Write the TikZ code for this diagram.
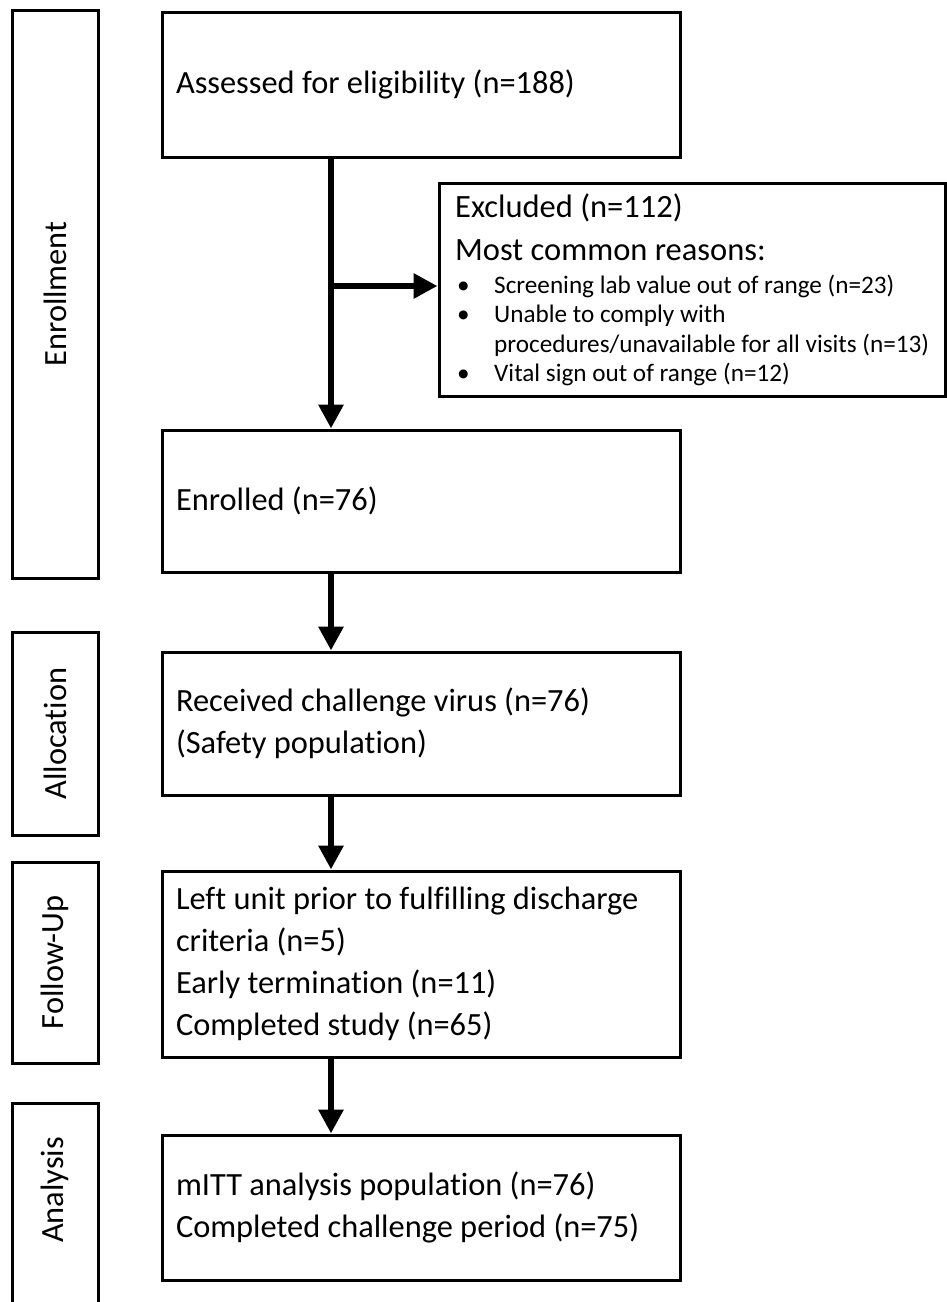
\documentclass[tikz,border=0pt]{standalone}
\usepackage{fontspec}
\setmainfont{Carlito}[Ligatures=NoCommon]
\usetikzlibrary{arrows.meta}
\begin{document}
\begin{tikzpicture}[x=1pt,y=-1pt,
  mainfont/.style={font=\fontsize{32.4}{42}\selectfont},
  headfont/.style={font=\fontsize{32.5}{42}\selectfont},
  smallfont/.style={font=\fontsize{25.2}{29.5}\selectfont},
  natural/.style={execute at begin node={\rightskip=0pt plus 1fil\spaceskip=0pt\xspaceskip=0pt\relax}},
  sidebox/.style={draw, line width=3pt, rotate=90, minimum height=86pt, inner sep=0pt, mainfont},
  flowbox/.style={draw, line width=3pt, minimum width=518pt, text width=490pt, inner xsep=14pt, inner ysep=0pt, align=left, mainfont, natural},
  flow/.style={line width=6pt, -{Triangle[length=24pt,width=24pt]}},
  linetext/.style={anchor=base west, inner sep=0pt}
]
\clip (0,0) rectangle (947,1302);
\fill[white] (0,0) rectangle (947,1302);

% side labels
\node[sidebox, minimum width=568pt] (enroll) at (55,294) {Enrollment};
\node[sidebox, minimum width=203pt] (alloc) at (55,733.5) {Allocation};
\node[sidebox, minimum width=201pt] (follow) at (55,962.5) {Follow-Up};
\node[sidebox, minimum width=287pt] (anbox) at (55,1246.5) {};
\node[rotate=90, mainfont, inner sep=0pt] (antext) at (55,1190) {Analysis};

% main boxes
\node[flowbox, minimum height=145pt] (assess) at (421,84.5) {Assessed for eligibility (n=188)};
\node[flowbox, minimum height=142pt] (enrol) at (421,501) {Enrolled (n=76)};
\node[flowbox, minimum height=143pt] (recv) at (421,723.5) {Received challenge virus (n=76)\\(Safety population)};
\node[flowbox, minimum height=186pt] (left) at (421,964) {Left unit prior to fulfilling discharge\\criteria (n=5)\\Early termination (n=11)\\Completed study (n=65)};
\node[flowbox, minimum height=145pt] (mitt) at (421,1207.5) {mITT analysis population (n=76)\\Completed challenge period (n=75)};

% excluded box
\node[draw, line width=3pt, minimum width=506pt, minimum height=213pt, inner sep=0pt] (excl) at (692,289.5) {};
\node[linetext, headfont] (ex1) at (455,217) {Excluded (n=112)};
\node[linetext, headfont] (ex2) at (455,260) {Most common reasons:};
\node[linetext, smallfont] (ex3) at (457,293) {\makebox[37pt][l]{\textbullet}Screening lab value out of range (n=23)};
\node[linetext, smallfont] (ex4) at (457,322.5) {\makebox[37pt][l]{\textbullet}Unable to comply with};
\node[linetext, smallfont] (ex5) at (457,352) {\hspace*{37pt}procedures/unavailable for all visits (n=13)};
\node[linetext, smallfont] (ex6) at (457,381.5) {\makebox[37pt][l]{\textbullet}Vital sign out of range (n=12)};

% connectors
\coordinate (spine) at (331,0);
\coordinate (branch) at (331,286);
\draw[flow] (assess.south -| spine) -- (enrol.north -| spine);
\draw[flow] (branch) -- (branch -| excl.west);
\draw[flow] (enrol.south -| spine) -- (recv.north -| spine);
\draw[flow] (recv.south -| spine) -- (left.north -| spine);
\draw[flow] (left.south -| spine) -- (mitt.north -| spine);
\end{tikzpicture}
\end{document}
